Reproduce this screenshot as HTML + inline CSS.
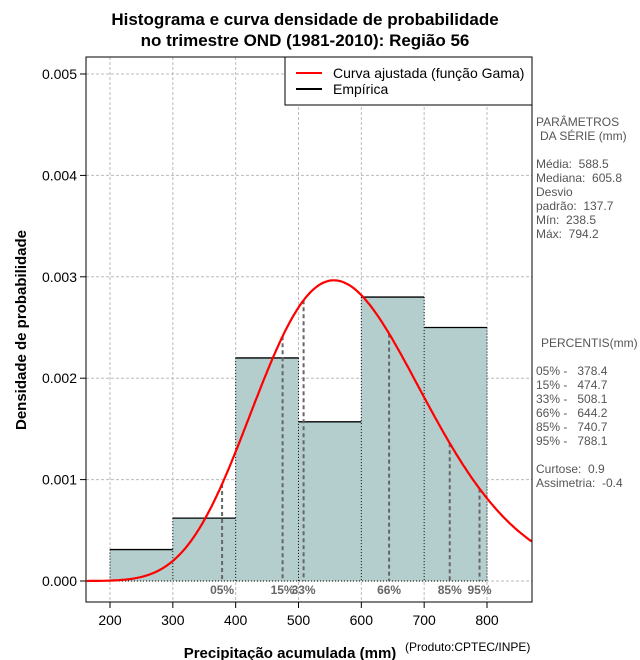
<!DOCTYPE html>
<html><head><meta charset="utf-8"><style>
body{margin:0;background:#fff}
svg{display:block;font-family:"Liberation Sans",sans-serif}
text{white-space:pre}
</style></head><body>
<svg id="c" width="640" height="660">
<text x="305" y="25" text-anchor="middle" font-size="17" font-weight="bold">Histograma e curva densidade de probabilidade</text>
<text x="305" y="46" text-anchor="middle" font-size="17" font-weight="bold">no trimestre OND (1981-2010): Região 56</text>
<g id="grid"></g>
<g id="bars"></g>
<g id="pct"></g>
<g id="curve"></g>
<g id="axes"></g>
<rect x="86" y="57" width="446" height="545" fill="none" stroke="#000"/>
<g>
<rect x="285" y="57" width="247" height="48" fill="#fff" stroke="#000"/>
<line x1="296" y1="73" x2="322" y2="73" stroke="red" stroke-width="2"/>
<text x="333" y="78" font-size="14">Curva ajustada (função Gama)</text>
<line x1="296" y1="89" x2="322" y2="89" stroke="#000" stroke-width="2"/>
<text x="333" y="94" font-size="14">Empírica</text>
</g>
<g font-size="12" fill="#555">
<text x="536" y="126">PARÂMETROS</text><text x="540" y="140">DA SÉRIE (mm)</text>
<text x="536" y="168">Média:  588.5</text><text x="536" y="182">Mediana:  605.8</text>
<text x="536" y="196">Desvio</text><text x="536" y="210">padrão:  137.7</text>
<text x="536" y="224">Mín:  238.5</text><text x="536" y="238">Máx:  794.2</text>
<text x="541" y="347">PERCENTIS(mm)</text>
<text x="536" y="375">05% -   378.4</text><text x="536" y="389">15% -   474.7</text>
<text x="536" y="403">33% -   508.1</text><text x="536" y="417">66% -   644.2</text>
<text x="536" y="431">85% -   740.7</text><text x="536" y="445">95% -   788.1</text>
<text x="536" y="473">Curtose:  0.9</text><text x="536" y="487">Assimetria:  -0.4</text>
</g>
<text x="290" y="658" text-anchor="middle" font-size="15" font-weight="bold">Precipitação acumulada (mm)</text>
<text x="405" y="651" font-size="12">(Produto:CPTEC/INPE)</text>
<text transform="translate(26,330) rotate(-90)" text-anchor="middle" font-size="15" font-weight="bold">Densidade de probabilidade</text>
</svg>
<script>
const binEdges=[200,300,400,500,600,700,800];
const densities=[0.00031,0.00062,0.0022,0.00157,0.0028,0.0025];
const xTicks=[200,300,400,500,600,700,800];
const yTicks=[0,0.001,0.002,0.003,0.004,0.005];
const yTickLabels=["0.000","0.001","0.002","0.003","0.004","0.005"];
const pctLabels=["05%","15%","33%","66%","85%","95%"];
const pctValues=[378.4,474.7,508.1,644.2,740.7,788.1];
const seriesMean=588.5, seriesSd=137.7;
const NS="http://www.w3.org/2000/svg";
const X=v=>110+(v-200)*0.62833, Y=d=>581-d*101400;
function mk(p,t,a){const e=document.createElementNS(NS,t);for(const k in a)e.setAttribute(k,a[k]);p.appendChild(e);return e;}
const grid=document.getElementById('grid'),axes=document.getElementById('axes');
xTicks.forEach(t=>{const l=mk(grid,'line',{x1:X(t),x2:X(t),y1:57,y2:602,stroke:'#bbb','stroke-dasharray':'3,2'});

const k=mk(axes,'line',{x1:X(t),x2:X(t),y1:602,y2:608,stroke:'#000'});
const s=mk(axes,'text',{x:X(t),y:625,'text-anchor':'middle','font-size':14});s.textContent=t;});
yTicks.forEach((t,i)=>{const l=mk(grid,'line',{x1:86,x2:532,y1:Y(t),y2:Y(t),stroke:'#bbb','stroke-dasharray':'3,2'});

const k=mk(axes,'line',{x1:80,x2:86,y1:Y(t),y2:Y(t),stroke:'#000'});
const s=mk(axes,'text',{x:77,y:Y(t)+5,'text-anchor':'end','font-size':14});s.textContent=yTickLabels[i];});
const bars=document.getElementById('bars');
densities.forEach((d,i)=>{const x0=X(binEdges[i]),x1=X(binEdges[i+1]);
const r=mk(bars,'rect',{x:x0,y:Y(d),width:x1-x0,height:Y(0)-Y(d),fill:'#b4cece'});
const t=mk(bars,'line',{x1:x0,x2:x1,y1:Y(d),y2:Y(d),stroke:'#000','stroke-width':1.3});});
binEdges.forEach((e,i)=>{const h=Math.max(densities[i]||0,densities[i-1]||0);
const l=mk(bars,'line',{x1:X(e),x2:X(e),y1:Y(h),y2:Y(0),stroke:'#000','stroke-dasharray':'1,2'});});
const b=mk(bars,'line',{x1:X(200),x2:X(800),y1:Y(0),y2:Y(0),stroke:'#000','stroke-dasharray':'1,2'});
const k=(seriesMean/seriesSd)**2, th=seriesSd*seriesSd/seriesMean;
function lg(z){const c=[76.18009172947146,-86.50532032941677,24.01409824083091,-1.231739572450155,0.1208650973866179e-2,-0.5395239384953e-5];let x=z,y=z,t=x+5.5;t-=(x+0.5)*Math.log(t);let s=1.000000000190015;for(const q of c)s+=q/++y;return -t+Math.log(2.5066282746310005*s/x);}
const pdf=v=>Math.exp((k-1)*Math.log(v)-v/th-lg(k)-k*Math.log(th));
const pct=document.getElementById('pct');
pctValues.forEach((p,i)=>{const l=mk(pct,'line',{x1:X(p),x2:X(p),y1:Y(pdf(p)),y2:Y(0),stroke:'#666','stroke-width':2,'stroke-dasharray':'4,3'});

const s=mk(pct,'text',{x:X(p),y:594,'text-anchor':'middle','font-size':12,'font-weight':'bold',fill:'#666'});s.textContent=pctLabels[i];
});
let d='';for(let v=163;v<=871;v+=2){d+=(d?'L':'M')+X(v).toFixed(1)+','+Y(pdf(v)).toFixed(1);}
const c=mk(document.getElementById('curve'),'path',{d:d,fill:'none',stroke:'red','stroke-width':2.2});

</script>
</body></html>
